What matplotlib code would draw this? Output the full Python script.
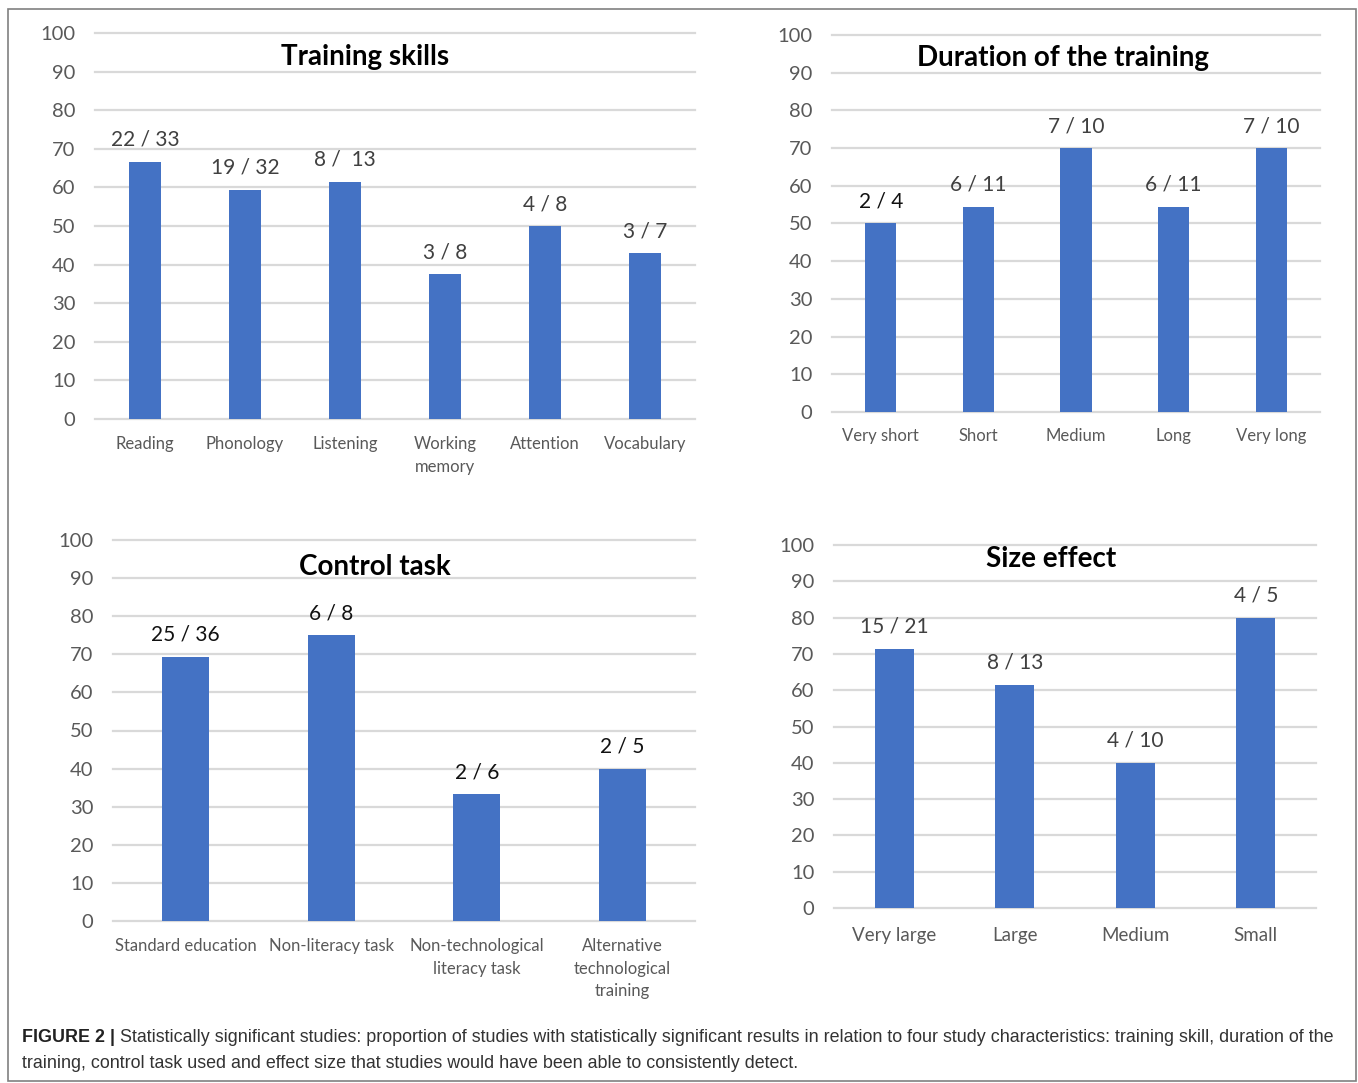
import matplotlib
matplotlib.use("Agg")
import matplotlib.pyplot as plt
from matplotlib.patches import Rectangle

# ---------------- data ----------------
skills_cats = ["Reading", "Phonology", "Listening", "Working\nmemory", "Attention", "Vocabulary"]
skills_vals = [66.7, 59.4, 61.5, 37.5, 50.0, 42.9]
skills_labels = ["22 / 33", "19 / 32", "8 /  13", "3 / 8", "4 / 8", "3 / 7"]

duration_cats = ["Very short", "Short", "Medium", "Long", "Very long"]
duration_vals = [50.0, 54.5, 70.0, 54.5, 70.0]
duration_labels = ["2 / 4", "6 / 11", "7 / 10", "6 / 11", "7 / 10"]

control_cats = ["Standard education", "Non-literacy task", "Non-technological\nliteracy task",
                "Alternative\ntechnological\ntraining"]
control_vals = [69.4, 75.0, 33.3, 40.0]
control_labels = ["25 / 36", "6 / 8", "2 / 6", "2 / 5"]

size_cats = ["Very large", "Large", "Medium", "Small"]
size_vals = [71.4, 61.5, 40.0, 80.0]
size_labels = ["15 / 21", "8 / 13", "4 / 10", "4 / 5"]

yticks = [0, 10, 20, 30, 40, 50, 60, 70, 80, 90, 100]

caption_bold = "FIGURE 2 |"
caption_line1 = ("Statistically significant studies: proportion of studies with statistically significant "
                 "results in relation to four study characteristics: training skill, duration of the")
caption_line2 = ("training, control task used and effect size that studies would have been able to "
                 "consistently detect.")

# ---------------- style ----------------
W, H = 1358, 1083
BAR = "#4472C4"
GRID = "#d9d9d9"
TICK = "#595959"
FONT = "Lato"

fig = plt.figure(figsize=(W / 100, H / 100), dpi=100)
fig.patch.set_facecolor("white")


def px_axes(x0, x1, ytop, ybot):
    return fig.add_axes([x0 / W, 1 - ybot / H, (x1 - x0) / W, (ybot - ytop) / H])


def panel(ax, cats, vals, labels, title, tx, ty, label_colors, cat_pad, cat_size=12):
    n = len(cats)
    x = list(range(n))
    ax.set_xlim(-0.5, n - 0.5)
    ax.set_ylim(0, 100)
    for s in ax.spines.values():
        s.set_visible(False)
    ax.set_yticks(yticks)
    ax.set_yticklabels([str(t) for t in yticks], fontsize=14.5, color=TICK, family=FONT)
    ax.tick_params(axis="y", length=0, pad=14)
    ax.set_xticks(x)
    ax.set_xticklabels(cats, fontsize=cat_size, color=TICK, family=FONT, linespacing=1.5,
                       va="top")
    ax.tick_params(axis="x", length=0, pad=cat_pad)
    for t in yticks:
        ln = ax.axhline(t, color=GRID, lw=1.6, zorder=0)
        ln.set_clip_on(False)
    ax.bar(x, vals, width=0.32, color=BAR, zorder=2)
    for xi, v, lab, c in zip(x, vals, labels, label_colors):
        ax.annotate(lab, (xi, v), xytext=(0, 11.5), textcoords="offset points",
                    ha="center", va="baseline", fontsize=15, color=c, family=FONT)
    ax.text(tx, ty, title, transform=ax.transAxes, ha="center", va="center",
            fontsize=20, fontweight="bold", color="black", family=FONT)


ax1 = px_axes(95, 695, 33, 419)
panel(ax1, skills_cats, skills_vals, skills_labels, "Training skills", 0.45, 0.938,
      ["#404040"] * 6, 12.5)

ax2 = px_axes(832, 1320, 35, 412)
panel(ax2, duration_cats, duration_vals, duration_labels, "Duration of the training", 0.473, 0.939,
      ["#111111", "#404040", "#404040", "#404040", "#404040"], 11.5)

ax3 = px_axes(113, 695, 540, 921)
panel(ax3, control_cats, control_vals, control_labels, "Control task", 0.45, 0.929,
      ["#111111"] * 4, 12.5)

ax4 = px_axes(834, 1316, 545, 908)
panel(ax4, size_cats, size_vals, size_labels, "Size effect", 0.45, 0.962,
      ["#404040"] * 4, 14, cat_size=13.5)

# outer frame
fig.patches.append(Rectangle((8 / W, 1 - 1081 / H), (1356 - 8) / W, (1081 - 9) / H,
                             transform=fig.transFigure, fill=False, edgecolor="#808080",
                             lw=1.2))

# caption
cap_font = ["Liberation Sans Narrow", "Liberation Sans"]
fig.canvas.draw()
r = fig.canvas.get_renderer()
tb = fig.text(22 / W, 1 - 1038 / H, caption_bold, fontsize=12.9, fontweight="bold",
              family=cap_font, color="#222222", va="center", ha="left")
bb = tb.get_window_extent(renderer=r)
fig.text((bb.x1 + 5) / W, 1 - 1038 / H, caption_line1, fontsize=12.9, family=cap_font,
         color="#333333", va="center", ha="left")
fig.text(22 / W, 1 - 1064 / H, caption_line2, fontsize=12.9, family=cap_font,
         color="#333333", va="center", ha="left")

fig.savefig("out.png", dpi=100, facecolor="white")
